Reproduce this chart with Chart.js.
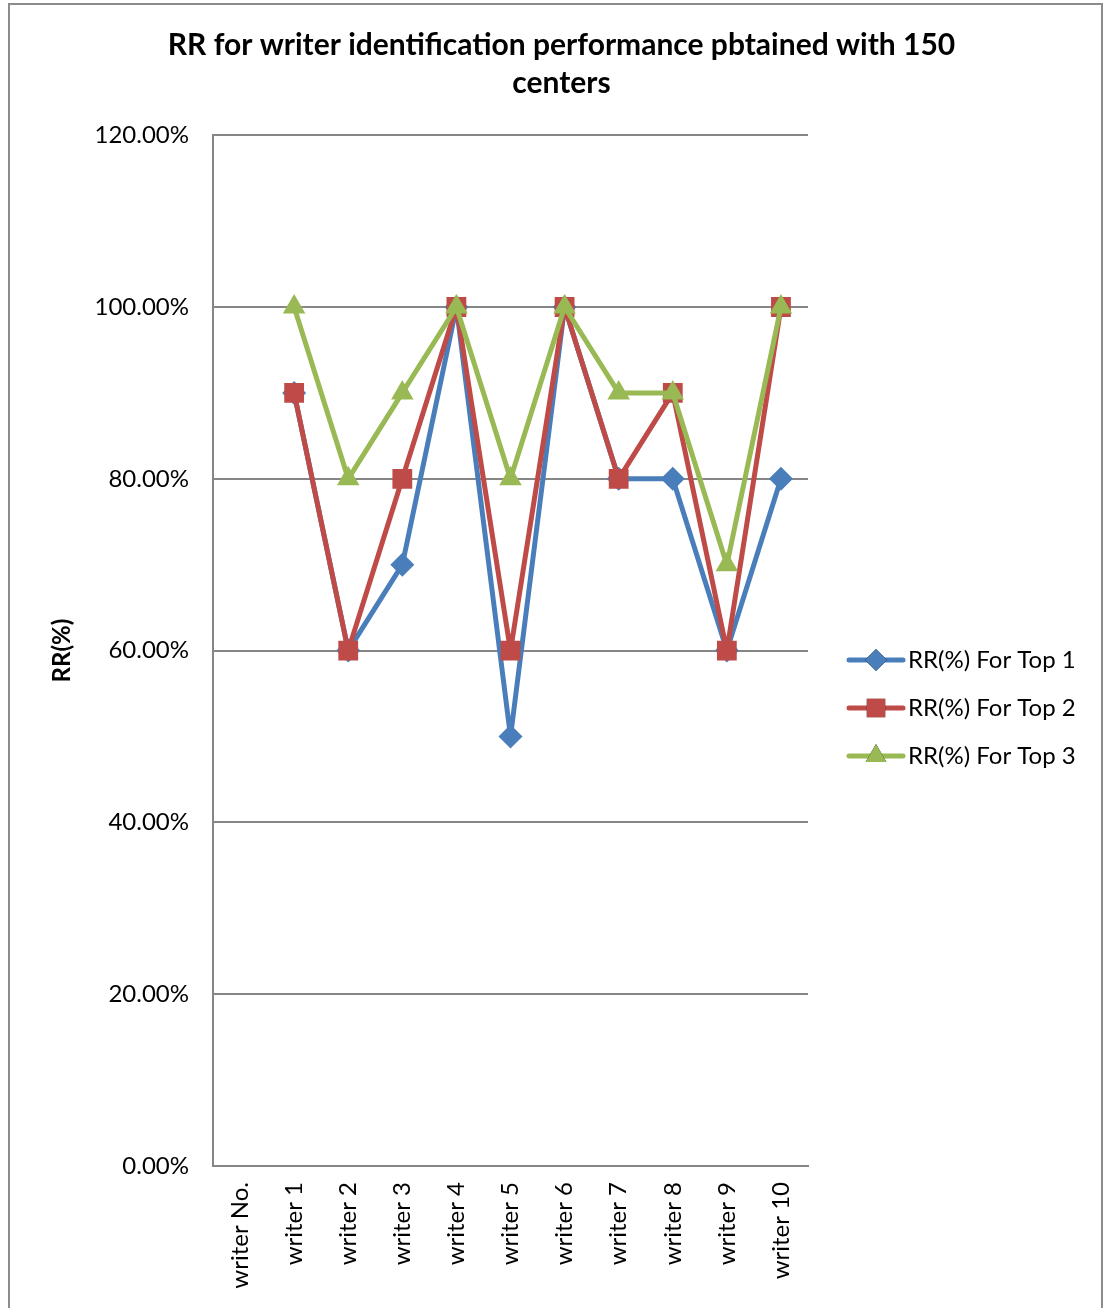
<!DOCTYPE html>
<html>
<head>
<meta charset="utf-8">
<script src="https://cdn.jsdelivr.net/npm/chart.js@4.4.0/dist/chart.umd.min.js"></script>
<style>
  html, body { margin: 0; padding: 0; background: #fff; }
  #wrap { position: relative; width: 1107px; height: 1308px; }
</style>
</head>
<body>
<div id="wrap"><canvas id="chart" width="1107" height="1308"></canvas></div>
<script>
// Data
const categories = ['writer No.', 'writer 1', 'writer 2', 'writer 3', 'writer 4', 'writer 5',
    'writer 6', 'writer 7', 'writer 8', 'writer 9', 'writer 10'];
const top1 = [null, 90, 60, 70, 100, 50, 100, 80, 80, 60, 80];
const top2 = [null, 90, 60, 80, 100, 60, 100, 80, 90, 60, 100];
const top3 = [null, 100, 80, 90, 100, 80, 100, 90, 90, 70, 100];
const seriesNames = ['RR(%) For Top 1', 'RR(%) For Top 2', 'RR(%) For Top 3'];

const FONT = 'Lato, "Open Sans", sans-serif';
const blue = '#4a7ebb', red = '#be4b48', green = '#98b954';

// outer frame like the Excel chart border
const framePlugin = {
    id: 'frame',
    beforeDraw(chart) {
        const ctx = chart.ctx;
        ctx.save();
        ctx.fillStyle = '#fff';
        ctx.fillRect(0, 0, chart.width, chart.height);
        ctx.strokeStyle = '#8c8c8c';
        ctx.lineWidth = 2;
        ctx.strokeRect(9, 4, 1093, 1330);
        ctx.restore();
    }
};

// legend drawn as line + marker, like Excel
const sideLegend = {
    id: 'sideLegend',
    afterDraw(chart) {
        const ctx = chart.ctx;
        const x0 = 849, x1 = 903, textX = 908;
        const rows = [660, 708, 756];
        ctx.save();
        chart.data.datasets.forEach((ds, i) => {
            const y = rows[i];
            ctx.strokeStyle = ds.borderColor;
            ctx.lineWidth = ds.borderWidth;
            ctx.lineCap = 'round';
            ctx.beginPath();
            ctx.moveTo(x0, y);
            ctx.lineTo(x1, y);
            ctx.stroke();
            Chart.helpers.drawPoint(ctx, {
                pointStyle: ds.pointStyle,
                radius: ds.pointRadius - 1,
                rotation: 0,
                borderWidth: 0
            }, (x0 + x1) / 2, y);
            ctx.fillStyle = ds.pointBackgroundColor;
            ctx.fill();
            ctx.fillStyle = '#000';
            ctx.font = '24px ' + FONT;
            ctx.textBaseline = 'middle';
            ctx.textAlign = 'left';
            ctx.fillText(ds.label, textX, y);
        });
        ctx.restore();
    }
};

function series(label, data, color, style, radius, order) {
    return {
        label, data, order,
        borderColor: color,
        backgroundColor: color,
        pointBackgroundColor: color,
        pointBorderColor: color,
        pointBorderWidth: 0,
        borderWidth: 5,
        borderJoinStyle: 'round',
        borderCapStyle: 'round',
        pointStyle: style,
        pointRadius: radius,
        pointHoverRadius: radius,
        tension: 0,
        spanGaps: false
    };
}

new Chart(document.getElementById('chart'), {
    type: 'line',
    data: {
        labels: categories,
        datasets: [
            series(seriesNames[0], top1, blue, 'rectRot', 12, 3),
            series(seriesNames[1], top2, red, 'rect', 14, 2),
            series(seriesNames[2], top3, green, 'triangle', 13, 1)
        ]
    },
    options: {
        responsive: false,
        animation: false,
        layout: { padding: { left: 16, right: 0, top: 0, bottom: 0 } },
        plugins: {
            legend: { display: false },
            tooltip: { enabled: false },
            title: {
                display: true,
                text: ['RR for writer identification performance pbtained with 150', 'centers'],
                color: '#000',
                font: { family: FONT, size: 30, weight: 'bold', lineHeight: 1.27 },
                padding: { top: 26, bottom: 33 }
            }
        },
        scales: {
            x: {
                offset: true,
                grid: { display: false, drawTicks: false },
                border: { display: true, color: '#868686', width: 2 },
                ticks: {
                    color: '#000',
                    font: { family: FONT, size: 24 },
                    minRotation: 90, maxRotation: 90,
                    padding: 16,
                    autoSkip: false
                },
                afterFit(scale) { scale.height = 142; }
            },
            y: {
                min: 0, max: 120,
                ticks: {
                    stepSize: 20,
                    color: '#000',
                    font: { family: FONT, size: 24 },
                    padding: 24,
                    callback: v => v.toFixed(2) + '%'
                },
                grid: { color: '#868686', lineWidth: 2, drawTicks: false },
                border: { display: true, color: '#868686', width: 2 },
                title: {
                    display: true,
                    text: 'RR(%)',
                    color: '#000',
                    font: { family: FONT, size: 24, weight: 'bold' },
                    padding: { top: 32, bottom: 0 }
                },
                afterFit(scale) { scale.width = 197; }
            },
            // empty right-hand box that keeps room for the legend
            side: {
                position: 'right',
                display: true,
                ticks: { display: false },
                grid: { display: false, drawTicks: false },
                border: { display: false },
                afterFit(scale) { scale.width = 299; }
            }
        }
    },
    plugins: [framePlugin, sideLegend]
});
</script>
</body>
</html>
